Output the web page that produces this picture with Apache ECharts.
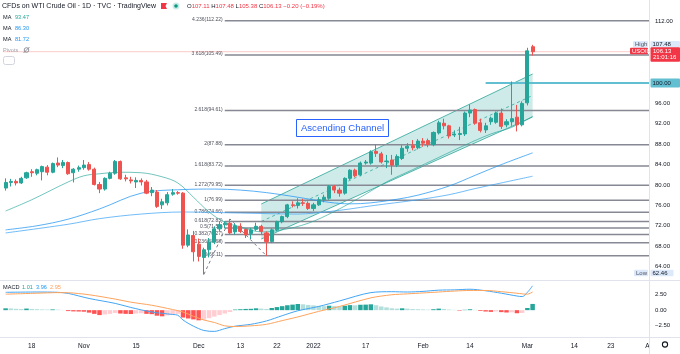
<!DOCTYPE html>
<html>
<head>
<meta charset="utf-8">
<script src="https://cdn.jsdelivr.net/npm/echarts@6/dist/echarts.min.js"></script>
<style>
  html, body { margin: 0; padding: 0; background: #fff; }
  #chart { width: 680px; height: 354px; }
</style>
</head>
<body>
<div id="chart"></div>
<script>
(function() {
  var FONT = '"Liberation Sans", Arial, sans-serif';
  var UP = '#26a69a', DOWN = '#ef5350';

  // trading days on the chart (the CFD has no bar on 24 Dec), plus the empty days up to 1 Apr
  var days = [];
  var d = new Date(Date.UTC(2021, 9, 11));
  while (d.getTime() <= Date.UTC(2022, 3, 1)) {
    var s = d.toISOString().slice(0, 10);
    if (d.getUTCDay() !== 0 && d.getUTCDay() !== 6 && s !== '2021-12-24') days.push(s);
    d.setUTCDate(d.getUTCDate() + 1);
  }

  // time axis labels
  var timeLabels = {
    '2021-10-18': '18', '2021-11-01': 'Nov', '2021-11-15': '15', '2021-12-01': 'Dec',
    '2021-12-13': '13', '2021-12-22': '22', '2022-01-03': '2022', '2022-01-17': '17',
    '2022-02-01': 'Feb', '2022-02-14': '14', '2022-03-01': 'Mar', '2022-03-14': '14',
    '2022-03-23': '23', '2022-04-01': 'A'
  };
  var priceTicks = [64, 68, 72, 76, 80, 84, 88, 92, 96, 112];
  var macdTicks = [-2.5, 0, 2.5];

  // daily candles [open, close, low, high], 11 Oct 2021 .. 2 Mar 2022
  var ohlc = [
    [79.4, 80.5, 78.9, 81.3], [80.5, 80.7, 79.7, 81.2], [80.7, 80.4, 79.9, 81.1], [80.4, 81.3, 80.2, 81.6], [81.4, 82.4, 81.2, 82.6],
    [82.6, 82.4, 81.6, 83.1], [82.3, 83.0, 81.9, 83.2], [82.6, 83.6, 80.9, 83.8], [83.5, 82.5, 81.9, 83.9], [82.5, 84.2, 82.3, 84.4],
    [84.3, 83.9, 83.5, 85.4], [83.8, 84.4, 83.3, 84.9], [84.4, 82.2, 82.0, 84.6], [82.4, 83.1, 80.5, 83.3], [83.1, 83.4, 82.6, 83.8],
    [83.4, 83.9, 83.0, 84.9], [84.0, 83.1, 82.8, 84.5], [83.1, 80.1, 79.9, 83.4], [80.1, 79.2, 78.4, 80.6], [79.2, 81.3, 78.9, 81.5],
    [81.3, 82.3, 81.1, 82.6], [82.3, 84.6, 82.0, 84.9], [84.6, 81.2, 81.0, 84.8], [81.4, 81.2, 80.7, 82.0], [81.0, 80.8, 80.3, 81.6],
    [80.6, 80.9, 79.4, 81.5], [80.9, 80.6, 79.9, 81.3], [80.6, 78.4, 78.2, 81.0], [78.5, 79.0, 77.8, 79.6], [78.6, 75.8, 75.5, 79.0],
    [76.1, 76.7, 75.3, 77.3], [76.5, 78.1, 76.0, 78.6], [78.2, 78.5, 77.9, 79.2], [78.5, 78.4, 78.1, 78.8], [78.4, 68.2, 67.5, 78.6],
    [68.2, 70.2, 67.8, 71.3], [70.1, 66.9, 65.0, 71.0], [68.4, 66.0, 65.0, 69.5], [65.8, 67.3, 62.46, 67.7], [67.3, 68.8, 65.8, 69.6],
    [68.8, 71.4, 68.4, 71.9], [71.4, 72.2, 70.9, 72.9], [72.2, 72.5, 71.5, 72.9], [72.5, 70.6, 70.4, 73.34], [70.8, 72.0, 70.3, 72.4],
    [71.9, 70.9, 70.6, 72.5], [71.3, 70.2, 69.6, 71.5], [70.5, 71.2, 69.4, 71.6], [71.3, 71.9, 71.0, 72.6], [71.9, 70.9, 70.3, 72.2],
    [70.6, 68.9, 66.11, 70.9], [68.9, 71.2, 68.6, 71.5], [71.2, 72.8, 70.9, 73.0], [72.8, 73.8, 72.5, 74.0],
    [73.8, 76.1, 73.5, 76.3], [76.1, 76.0, 75.6, 76.8], [76.0, 76.5, 75.4, 77.4], [76.5, 76.4, 75.9, 77.3], [76.4, 75.4, 75.1, 76.8],
    [75.4, 76.1, 74.9, 76.5], [76.1, 77.1, 75.9, 77.6], [77.1, 77.6, 76.6, 78.1], [77.4, 79.7, 77.1, 80.0], [79.7, 79.0, 78.4, 80.0],
    [79.0, 78.4, 77.7, 79.5], [78.4, 81.3, 78.1, 81.5], [81.3, 82.9, 81.0, 83.1], [82.9, 81.8, 81.5, 83.2], [82.0, 84.3, 81.7, 84.6],
    [84.3, 84.5, 84.0, 84.9], [84.3, 86.5, 84.0, 86.8], [86.6, 86.2, 85.5, 88.0], [86.1, 84.5, 84.2, 86.5], [84.6, 84.7, 83.3, 85.9],
    [84.9, 83.9, 82.0, 85.9], [83.9, 85.6, 83.5, 86.0], [85.2, 87.2, 84.9, 87.8], [87.2, 87.6, 86.5, 88.2], [87.7, 87.3, 86.8, 88.8],
    [87.3, 88.6, 87.0, 89.0], [88.6, 88.2, 87.5, 89.2], [88.7, 87.9, 87.4, 89.1], [87.9, 90.3, 87.6, 90.5], [90.2, 92.2, 89.9, 92.6],
    [92.1, 91.6, 90.9, 93.0], [91.6, 89.6, 89.1, 91.8], [89.8, 90.0, 89.4, 90.7], [89.9, 90.1, 88.8, 91.4], [90.0, 94.1, 89.6, 94.4],
    [94.1, 94.7, 93.3, 95.8], [94.8, 92.1, 91.8, 95.0], [92.2, 90.7, 90.3, 93.0], [90.8, 91.6, 90.2, 92.2], [92.4, 93.1, 91.8, 93.4],
    [92.3, 94.1, 92.0, 94.4], [94.1, 91.5, 91.0, 95.0], [91.8, 92.4, 91.3, 92.9], [92.4, 93.0, 91.6, 100.3], [93.3, 91.8, 90.5, 95.7],
    [91.8, 96.0, 91.5, 96.4], [96.1, 106.3, 95.6, 106.9], [107.11, 106.13, 105.38, 107.48]
  ];

  // moving averages, [bar index, price]
  var maFast = [[0, 74.9], [5, 77.1], [12, 80.6], [15, 81.8], [18, 82.2], [22, 82.5], [26, 82.4], [30, 81.6], [33, 80.4],
    [36, 77.6], [39, 74.7], [42, 72.7], [45, 71.8], [49, 70.8], [53, 71.2], [58, 72.5], [63, 74.8], [68, 77.6], [73, 80.6],
    [78, 83.0], [83, 85.4], [88, 87.8], [93, 90.0], [97, 91.3], [101, 93.47]];
  var maMid = [[0, 71.2], [6, 72.0], [12, 73.3], [18, 75.3], [26, 78.4], [34, 79.1], [40, 79.2], [45, 79.0], [50, 78.5],
    [56, 77.6], [62, 76.6], [66, 76.3], [70, 76.5], [75, 77.2], [79, 78.0], [85, 79.8], [90, 81.9], [95, 84.0], [101, 86.3]];
  var maSlow = [[0, 70.6], [12, 72.3], [18, 73.4], [26, 74.3], [34, 74.7], [45, 74.5], [56, 74.3], [62, 74.8], [66, 75.3],
    [70, 75.9], [79, 77.1], [85, 78.1], [90, 79.3], [95, 80.4], [101, 81.72]];

  // fib extension levels
  var fibRatios = ['4.236', '3.618', '2.618', '2', '1.618', '1.272', '1', '0.786', '0.618', '0.5', '0.382', '0.236', '0'];
  var fibPrices = [112.22, 105.49, 94.61, 87.88, 83.72, 79.95, 76.99, 74.66, 72.83, 71.55, 70.27, 68.68, 66.11];
  var fibStart = 42;
  var fibPath = [[38, 62.46], [43, 73.34], [50, 66.11]];

  // ascending channel: [x0, top0, bottom0, x1, top1, bottom1]
  var channel = [[49, 76.27, 69.41, 101, 101.76, 93.33]];
  var level100 = [[92, 100]];
  var lastPrice = [[0, 106.13]];

  // MACD pane
  var macdHist = [0.30, 0.28, 0.22, 0.18, 0.26, 0.2, 0.16, 0.12, 0.1, 0.12, 0.08, 0.04,
    -0.15, -0.2, -0.22, -0.25, -0.4, -0.6, -0.8, -0.7, -0.6, -0.45, -0.55, -0.6, -0.62, -0.55, -0.5, -0.6, -0.65, -0.9,
    -1.0, -0.85, -0.7, -0.6, -1.2, -1.35, -1.5, -1.65, -1.55, -1.3, -1.05, -0.8, -0.55, -0.3,
    0.1, 0.15, 0.2, 0.22, 0.3, 0.25, 0.2, 0.35, 0.5, 0.65, 0.8, 0.9, 1.0, 0.95, 0.85, 0.78, 0.7, 0.65, 0.72, 0.65,
    0.62, 0.72, 0.82, 0.78, 0.88, 0.9, 0.95, 0.8, 0.6, 0.45, 0.3, 0.25, 0.3, 0.25, 0.18, 0.15, 0.12, 0.08, 0.15, 0.25,
    0.2, 0.1, 0.05, -0.08, 0.06, 0.15, 0.05, -0.12, -0.22, -0.28, -0.2, -0.32, -0.38, -0.35, -0.5, -0.45, 0.35, 1.01];
  var macdLine = [[0, 2.9], [6, 2.95], [10, 2.9], [12, 2.72], [16, 1.9], [21, 1.1], [24, 0.44], [28, -0.3], [32, -0.7],
    [33, -0.82], [34, -1.6], [36, -2.6], [38, -3.3], [40, -3.45], [42, -3.0], [44, -2.6], [47, -2.3], [50, -1.75],
    [53, -0.9], [56, -0.1], [60, 0.6], [64, 1.5], [70, 2.85], [74, 3.0], [77, 2.95], [80, 3.05], [83, 3.25], [86, 3.3],
    [89, 3.4], [92, 3.15], [95, 2.75], [98, 2.3], [99, 2.2], [100, 2.9], [101, 3.96]];
  var signalLine = [[0, 2.6], [6, 2.75], [10, 2.85], [12, 2.83], [16, 2.5], [21, 1.8], [24, 1.3], [28, 0.8], [32, 0.1],
    [34, -0.3], [36, -1.0], [38, -1.6], [40, -2.0], [42, -2.55], [44, -2.65], [47, -2.55], [50, -2.3], [53, -1.7],
    [56, -1.1], [60, -0.2], [64, 0.6], [70, 2.0], [74, 2.5], [77, 2.65], [80, 2.8], [83, 2.95], [86, 3.1], [89, 3.2],
    [92, 3.2], [95, 3.0], [98, 2.75], [99, 2.65], [100, 2.6], [101, 2.95]];

  var chart = echarts.init(document.getElementById('chart'), null, { renderer: 'canvas' });

  function hline(color, width, fromLeft) {
    return function(params, api) {
      var p = api.coord([api.value(0), api.value(1)]);
      var x1 = fromLeft ? params.coordSys.x : p[0];
      return {
        type: 'line',
        shape: { x1: x1, y1: p[1], x2: params.coordSys.x + params.coordSys.width, y2: p[1] },
        style: { stroke: color, lineWidth: width }
      };
    };
  }

  function maLine(data, color) {
    return {
      type: 'line', xAxisIndex: 0, yAxisIndex: 0, data: data, smooth: 0.35, showSymbol: false,
      silent: true, z: 3, lineStyle: { color: color, width: 1 }
    };
  }

  chart.setOption({
    animation: false,
    textStyle: { fontFamily: FONT },
    grid: [
      { left: 3, right: 30, top: 0, height: 280 },
      { left: 3, right: 30, top: 280, height: 57 }
    ],
    xAxis: [
      { type: 'category', gridIndex: 0, data: days, axisLine: { show: false }, axisTick: { show: false },
        axisLabel: { show: false }, splitLine: { show: false } },
      { type: 'category', gridIndex: 1, data: days, axisLine: { show: false }, axisTick: { show: false },
        splitLine: { show: false },
        axisLabel: {
          interval: function(i, v) { return timeLabels[v] !== undefined; },
          formatter: function(v) { return timeLabels[v] || ''; },
          fontSize: 6.5, color: '#131722', margin: 6
        } }
    ],
    yAxis: [
      { type: 'value', gridIndex: 0, position: 'right', min: 61.37, max: 116.27,
        axisLine: { show: false }, axisTick: { show: false }, splitLine: { show: false },
        axisLabel: { customValues: priceTicks, formatter: function(v) { return v.toFixed(2); },
          fontSize: 6, color: '#131722', margin: 5 } },
      { type: 'value', gridIndex: 1, position: 'right', min: -4.36, max: 4.9,
        axisLine: { show: false }, axisTick: { show: false }, splitLine: { show: false },
        axisLabel: { customValues: macdTicks,
          formatter: function(v) { return (v < 0 ? '\u2212' : '') + Math.abs(v).toFixed(2); },
          fontSize: 6, color: '#131722', margin: 5 } }
    ],
    series: [
      {
        type: 'custom', xAxisIndex: 0, yAxisIndex: 0, data: channel, silent: true, z: 1,
        encode: { x: [0, 3], y: [1, 2, 4, 5] },
        renderItem: function(params, api) {
          var a = api.coord([api.value(0), api.value(1)]);
          var b = api.coord([api.value(3), api.value(4)]);
          var c = api.coord([api.value(3), api.value(5)]);
          var e = api.coord([api.value(0), api.value(2)]);
          var stroke = '#4fb5ab';
          return { type: 'group', children: [
            { type: 'polygon', shape: { points: [a, b, c, e] }, style: { fill: 'rgba(38,166,154,0.22)' } },
            { type: 'line', shape: { x1: a[0], y1: a[1], x2: b[0], y2: b[1] }, style: { stroke: stroke, lineWidth: 1 } },
            { type: 'line', shape: { x1: e[0], y1: e[1], x2: c[0], y2: c[1] }, style: { stroke: stroke, lineWidth: 1 } },
            { type: 'line', shape: { x1: a[0], y1: (a[1] + e[1]) / 2, x2: b[0], y2: (b[1] + c[1]) / 2 },
              style: { stroke: stroke, lineWidth: 1, lineDash: [3, 3] } }
          ] };
        }
      },
      {
        type: 'custom', xAxisIndex: 0, yAxisIndex: 0, silent: true, z: 2,
        data: fibPrices.map(function(p) { return [fibStart, p]; }),
        encode: { x: 0, y: 1 },
        renderItem: function(params, api) {
          var p = api.coord([api.value(0), api.value(1)]);
          var i = params.dataIndex;
          return { type: 'group', children: [
            { type: 'line', shape: { x1: p[0], y1: p[1], x2: params.coordSys.x + params.coordSys.width, y2: p[1] },
              style: { stroke: '#868993', lineWidth: 1.5 } },
            { type: 'text', style: { x: p[0] - 2, y: p[1] - 1, text: fibRatios[i] + '(' + fibPrices[i].toFixed(2) + ')',
              align: 'right', verticalAlign: 'middle', fill: '#50535e', fontSize: 5, fontFamily: FONT } }
          ] };
        }
      },
      {
        type: 'line', xAxisIndex: 0, yAxisIndex: 0, data: fibPath, showSymbol: false, silent: true, z: 2,
        lineStyle: { color: '#787b86', width: 1, type: [3, 3] }
      },
      { type: 'custom', xAxisIndex: 0, yAxisIndex: 0, data: lastPrice, encode: { x: 0, y: 1 }, silent: true, z: 2,
        renderItem: hline('rgba(239,83,80,0.3)', 1, true) },
      { type: 'custom', xAxisIndex: 0, yAxisIndex: 0, data: level100, encode: { x: 0, y: 1 }, silent: true, z: 2,
        renderItem: hline('#62bfd2', 2, false) },
      maLine(maSlow, 'rgba(66,165,245,0.75)'),
      maLine(maMid, 'rgba(33,150,243,0.75)'),
      maLine(maFast, 'rgba(38,166,154,0.65)'),
      {
        type: 'candlestick', xAxisIndex: 0, yAxisIndex: 0, data: ohlc, barWidth: 3.6, z: 4, silent: true,
        itemStyle: { color: UP, color0: DOWN, borderColor: UP, borderColor0: DOWN, borderWidth: 1 }
      },
      {
        type: 'bar', xAxisIndex: 1, yAxisIndex: 1, data: macdHist, barWidth: '86%', silent: true,
        itemStyle: {
          color: function(p) {
            var v = p.value, prev = p.dataIndex > 0 ? macdHist[p.dataIndex - 1] : v;
            if (v >= 0) return v >= prev ? '#26a69a' : '#b2dfdb';
            return v < prev ? '#ff5252' : '#ffcdd2';
          }
        }
      },
      { type: 'line', xAxisIndex: 1, yAxisIndex: 1, data: macdLine, smooth: 0.3, showSymbol: false, silent: true,
        lineStyle: { color: '#42a5f5', width: 1 } },
      { type: 'line', xAxisIndex: 1, yAxisIndex: 1, data: signalLine, smooth: 0.3, showSymbol: false, silent: true,
        lineStyle: { color: '#ffa35c', width: 1 } }
    ]
  });

  // legend, tags and chrome
  function py(v) { return chart.convertToPixel({ yAxisIndex: 0 }, v); }
  function tag(x, y, w, h, bg, text, color, align) {
    return [
      { type: 'rect', shape: { x: x, y: y - h / 2, width: w, height: h, r: 1 }, style: { fill: bg }, z: 100 },
      { type: 'text', z: 101, style: { x: align === 'right' ? x + w - 2 : x + 2, y: y, text: text, fill: color,
        fontSize: 6, fontFamily: FONT, align: align || 'left', verticalAlign: 'middle' } }
    ];
  }
  function txt(x, y, text, color, size, extra) {
    var st = { x: x, y: y, text: text, fill: color, fontSize: size, fontFamily: FONT, verticalAlign: 'middle' };
    for (var k in extra) st[k] = extra[k];
    return { type: 'text', z: 100, style: st };
  }

  var yHigh = py(107.48), yLast = py(106.13), y100 = py(100), yLow = py(62.46);
  var g = [
    { type: 'line', z: 90, shape: { x1: 649.5, y1: 0, x2: 649.5, y2: 354 }, style: { stroke: '#e0e3eb', lineWidth: 1 } },
    { type: 'line', z: 90, shape: { x1: 0, y1: 280.5, x2: 680, y2: 280.5 }, style: { stroke: '#e0e3eb', lineWidth: 1 } },
    { type: 'line', z: 90, shape: { x1: 0, y1: 337.5, x2: 680, y2: 337.5 }, style: { stroke: '#e0e3eb', lineWidth: 1 } },
    txt(2, 6, 'CFDs on WTI Crude Oil \u00b7 1D \u00b7 TVC \u00b7 TradingView', '#131722', 7),
    { type: 'polygon', z: 100, shape: { points: [[161, 3], [167, 3], [165.5, 6], [167, 9], [161, 9]] }, style: { fill: '#f23645' } },
    { type: 'circle', z: 100, shape: { cx: 176, cy: 6, r: 3.5 }, style: { fill: '#c8ebe6' } },
    { type: 'circle', z: 101, shape: { cx: 176, cy: 6, r: 1.8 }, style: { fill: '#089981' } },
    { type: 'text', z: 100, style: { x: 187, y: 6, verticalAlign: 'middle', fontSize: 6, fontFamily: FONT,
      text: '{k|O}{v|107.11} {k|H}{v|107.48} {k|L}{v|105.38} {k|C}{v|106.13} {v|\u22120.20 (\u22120.19%)}',
      rich: { k: { fill: '#131722', fontSize: 6, fontFamily: FONT }, v: { fill: '#f23645', fontSize: 6, fontFamily: FONT } } } },
    txt(3, 17.5, 'MA', '#131722', 5.6), txt(15, 17.5, '93.47', '#26a69a', 5.6),
    txt(3, 28.5, 'MA', '#131722', 5.6), txt(15, 28.5, '86.30', '#2196f3', 5.6),
    txt(3, 39.5, 'MA', '#131722', 5.6), txt(15, 39.5, '81.72', '#2196f3', 5.6),
    txt(3, 50, 'Pivots', '#a3a6af', 5.6),
    { type: 'circle', z: 100, shape: { cx: 26.5, cy: 50, r: 2.3 }, style: { fill: 'none', stroke: '#787b86', lineWidth: 0.8 } },
    { type: 'line', z: 100, shape: { x1: 23.5, y1: 53, x2: 29.5, y2: 47 }, style: { stroke: '#787b86', lineWidth: 0.8 } },
    { type: 'rect', z: 100, shape: { x: 3.5, y: 56.5, width: 11, height: 8, r: 2 }, style: { fill: '#fff', stroke: '#d1d4dc', lineWidth: 1 } },
    txt(3, 287, 'MACD', '#131722', 5.6), txt(22, 287, '1.01', '#26a69a', 5.6),
    txt(36, 287, '3.96', '#2196f3', 5.6), txt(50, 287, '2.95', '#ff9f5a', 5.6),
    { type: 'rect', z: 100, shape: { x: 296.5, y: 119.5, width: 92, height: 17 }, style: { fill: '#fff', stroke: '#2962ff', lineWidth: 1 } },
    txt(342.5, 128, 'Ascending Channel', '#2962ff', 9.6, { align: 'center' }),
    { type: 'circle', z: 100, shape: { cx: 665, cy: 344.5, r: 2.6 }, style: { fill: 'none', stroke: '#131722', lineWidth: 1.1 } }
  ];
  g = g.concat(
    tag(633, yHigh - 0.5, 15, 6.5, '#dbe9fb', 'High', '#50535e'),
    tag(650.5, yHigh - 0.5, 29.5, 6.5, '#dbe9fb', '107.48', '#131722'),
    tag(630, yLast - 0.8, 18, 6.5, '#f23645', 'USOIL', '#ffffff'),
    [{ type: 'rect', z: 100, shape: { x: 650.5, y: yLast - 4.5, width: 29.5, height: 14.5, r: 1 }, style: { fill: '#f23645' } },
     txt(653, yLast - 0.5, '106.13', '#ffffff', 6), txt(653, yLast + 6, '21:01:16', '#ffffff', 6)],
    tag(650.5, y100, 29.5, 9, '#62bfd2', '100.00', '#131722'),
    tag(634, yLow - 1.5, 14, 6.5, '#dbe9fb', 'Low', '#50535e'),
    tag(650.5, yLow - 1.5, 23, 6.5, '#dbe9fb', '62.46', '#131722')
  );
  chart.setOption({ graphic: g });

  window.addEventListener('resize', function() { chart.resize(); });
})();
</script>
</body>
</html>
